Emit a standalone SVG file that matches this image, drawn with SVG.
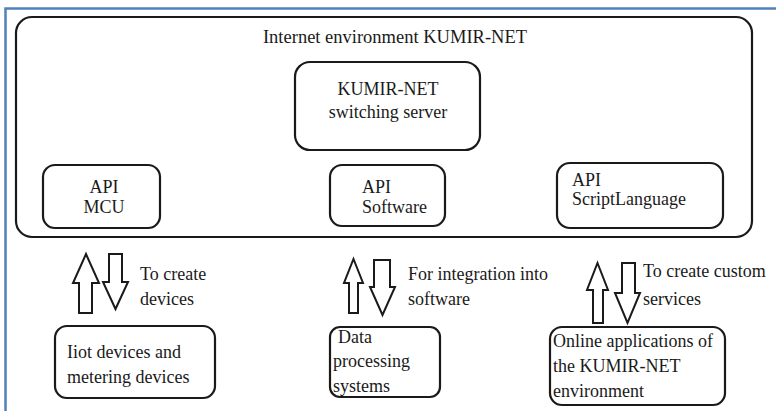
<svg xmlns="http://www.w3.org/2000/svg" width="776" height="411" viewBox="0 0 776 411" font-family="'Liberation Serif', Tinos, 'Times New Roman', 'DejaVu Serif', 'Noto Serif', serif">
<style>
.box{fill:#fff;stroke:#1a1a1a;stroke-width:2.2}
.arr{fill:#fff;stroke:#1a1a1a;stroke-width:2;stroke-linejoin:miter}
text{font-family:'Liberation Serif', Tinos, 'Times New Roman', 'DejaVu Serif', 'Noto Serif', serif;font-size:18px;fill:#1a1a1a}
.c{text-anchor:middle}
</style>
<rect x="0" y="0" width="776" height="411" fill="#fff"/>
<path d="M5.5,411 V8.5 H776" fill="none" stroke="#4f81bd" stroke-width="2.5"/>
<g id="env">
<rect class="box" x="16" y="17" width="736" height="220" rx="16"/>
<text class="c" x="395" y="43" style="font-size:18.5px">Internet environment KUMIR-NET</text>
</g>
<g id="server">
<rect class="box" x="295" y="62" width="185" height="88" rx="15"/>
<text class="c" x="388" y="95">KUMIR-NET</text>
<text class="c" x="388" y="118">switching server</text>
</g>
<g id="api-mcu">
<rect class="box" x="43" y="165" width="117" height="63" rx="12"/>
<text class="c" x="104" y="193">API</text>
<text class="c" x="104" y="213">MCU</text>
</g>
<g id="api-software">
<rect class="box" x="330" y="165" width="115" height="61" rx="12"/>
<text x="362" y="193">API</text>
<text x="362" y="213">Software</text>
</g>
<g id="api-script">
<rect class="box" x="557" y="163" width="166" height="65" rx="13"/>
<text x="572" y="186">API</text>
<text x="572" y="205">ScriptLanguage</text>
</g>
<g id="iiot">
<rect class="box" x="55" y="326" width="160" height="72" rx="12"/>
<text x="67" y="358">Iiot devices and</text>
<text x="67" y="383">metering devices</text>
</g>
<g id="data">
<rect class="box" x="330" y="327" width="110" height="70" rx="10"/>
<text x="338" y="343">Data</text>
<text x="333" y="367">processing</text>
<text x="333" y="392">systems</text>
</g>
<g id="online">
<rect class="box" x="550" y="327" width="175" height="78" rx="12"/>
<text x="553" y="347">Online applications of</text>
<text x="553" y="372">the KUMIR-NET</text>
<text x="553" y="397">environment</text>
</g>
<g id="connectors">
<polygon class="arr" points="86,254 99,283 92,283 92,313 79,313 79,283 73,283"/>
<polygon class="arr" points="109,254 122,254 122,282 128,282 115.5,309 103,282 109,282"/>
<text x="140" y="280">To create</text>
<text x="140" y="305">devices</text>
<polygon class="arr" points="353.5,259 363,283 358,283 358,313 349,313 349,283 344,283"/>
<polygon class="arr" points="374,260 390,260 390,287 395,287 382.5,315 370,287 374,287"/>
<text x="408" y="280">For integration into</text>
<text x="408" y="305">software</text>
<polygon class="arr" points="597.5,263 608,290 603,290 603,323 593,323 593,290 587,290"/>
<polygon class="arr" points="622,263 635,263 635,293 640,293 627.5,323 615,293 622,293"/>
<text x="643" y="277">To create custom</text>
<text x="643" y="305">services</text>
</g>
</svg>
